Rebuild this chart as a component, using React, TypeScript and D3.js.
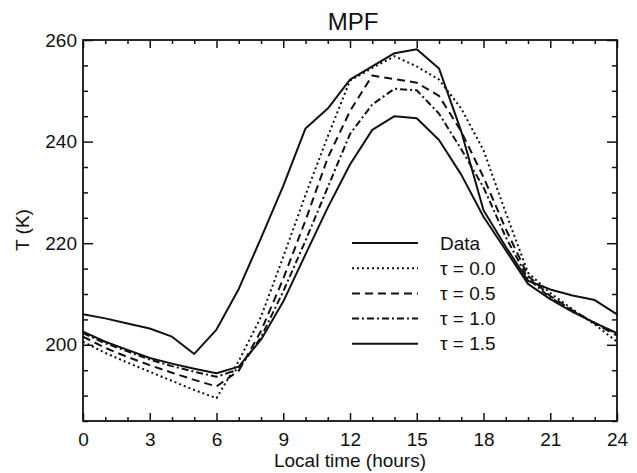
import React, { useEffect, useRef } from 'react';
import * as d3 from 'd3';

// Local time (hours) and temperature (K)
const hours = [0, 1, 2, 3, 4, 5, 6, 7, 8, 9, 10, 11, 12, 13, 14, 15, 16, 17, 18, 19, 20, 21, 22, 23, 24];

const dataT = [206.0, 205.2, 204.2, 203.2, 201.6, 198.2, 203.0, 211.0, 221.0, 231.3, 242.6, 246.5, 252.2, 254.8, 257.4, 258.2, 254.4, 242.0, 226.5, 219.3, 212.6, 210.9, 209.7, 208.8, 206.0];
const tau00 = [200.6, 198.4, 196.5, 194.7, 192.9, 191.1, 189.5, 196.8, 205.5, 217.3, 229.5, 241.0, 252.0, 254.5, 256.8, 254.8, 252.2, 246.5, 238.3, 226.0, 214.2, 210.2, 207.0, 204.0, 200.6];
const tau05 = [201.6, 199.4, 197.6, 196.0, 194.5, 193.1, 191.8, 194.9, 202.7, 213.0, 224.5, 236.8, 246.0, 253.0, 252.3, 251.6, 249.0, 242.0, 233.0, 222.8, 213.6, 209.6, 206.8, 204.2, 201.8];
const tau10 = [202.3, 200.3, 198.7, 197.1, 195.8, 194.7, 193.7, 195.2, 201.5, 210.5, 220.5, 231.0, 241.5, 247.3, 250.4, 250.1, 245.5, 238.5, 231.0, 221.2, 213.0, 209.3, 206.7, 204.3, 202.2];
const tau15 = [202.6, 200.6, 199.0, 197.4, 196.3, 195.3, 194.4, 195.7, 201.0, 208.5, 217.8, 227.0, 235.5, 242.3, 245.0, 244.6, 240.3, 233.5, 225.2, 218.6, 212.0, 209.0, 206.5, 204.3, 202.3];

const seriesNames = ['Data', 'τ = 0.0', 'τ = 0.5', 'τ = 1.0', 'τ = 1.5'];
const seriesValues = [dataT, tau00, tau05, tau10, tau15];
const seriesDash = ['none', '2,3', '8,5', '7,3,2,3', 'none'];

const xMajorTicks = [0, 3, 6, 9, 12, 15, 18, 21, 24];
const yMajorTicks = [200, 220, 240, 260];

const App: React.FC = () => {
  const svgRef = useRef<SVGSVGElement>(null);
  const width = 637;
  const height = 473;

  useEffect(() => {
    if (!svgRef.current) return;
    const svg = d3.select(svgRef.current);
    svg.selectAll('*').remove();

    const left = 83, right = 617, top = 40, bottom = 421;
    const font = '"Liberation Sans", Arial, Helvetica, sans-serif';

    const x = d3.scaleLinear().domain([0, 24]).range([left, right]);
    const y = d3.scaleLinear().domain([185, 260]).range([bottom, top]);

    svg.append('rect').attr('width', width).attr('height', height).attr('fill', '#fff');

    const xMinor = d3.range(0, 25).filter(h => h % 3 !== 0);
    const yMinor = d3.range(185, 261, 5).filter(t => t % 20 !== 0);

    const strip = (g: d3.Selection<SVGGElement, unknown, null, undefined>) => {
      g.select('.domain').remove();
      g.selectAll('line').attr('stroke', '#111').attr('stroke-width', 1.5);
      g.selectAll('text').attr('font-family', font).attr('font-size', 19).attr('fill', '#111');
    };

    // bottom axis
    svg.append('g').attr('transform', `translate(0,${bottom})`)
      .call(d3.axisBottom(x).tickValues(xMajorTicks).tickSize(-8).tickPadding(12).tickFormat(d3.format('d')))
      .call(strip);
    svg.append('g').attr('transform', `translate(0,${bottom})`)
      .call(d3.axisBottom(x).tickValues(xMinor).tickSize(-4).tickFormat(() => ''))
      .call(strip);
    // top axis
    svg.append('g').attr('transform', `translate(0,${top})`)
      .call(d3.axisTop(x).tickValues(xMajorTicks).tickSize(-8).tickFormat(() => ''))
      .call(strip);
    svg.append('g').attr('transform', `translate(0,${top})`)
      .call(d3.axisTop(x).tickValues(xMinor).tickSize(-4).tickFormat(() => ''))
      .call(strip);
    // left axis
    svg.append('g').attr('transform', `translate(${left},0)`)
      .call(d3.axisLeft(y).tickValues(yMajorTicks).tickSize(-10).tickPadding(6).tickFormat(d3.format('d')))
      .call(strip);
    svg.append('g').attr('transform', `translate(${left},0)`)
      .call(d3.axisLeft(y).tickValues(yMinor).tickSize(-5).tickFormat(() => ''))
      .call(strip);
    // right axis
    svg.append('g').attr('transform', `translate(${right},0)`)
      .call(d3.axisRight(y).tickValues(yMajorTicks).tickSize(-10).tickFormat(() => ''))
      .call(strip);
    svg.append('g').attr('transform', `translate(${right},0)`)
      .call(d3.axisRight(y).tickValues(yMinor).tickSize(-5).tickFormat(() => ''))
      .call(strip);

    // frame
    svg.append('rect')
      .attr('x', left).attr('y', top)
      .attr('width', right - left).attr('height', bottom - top)
      .attr('fill', 'none').attr('stroke', '#111').attr('stroke-width', 1.8);

    // curves
    const line = d3.line<number>()
      .x((_, i) => x(hours[i]))
      .y(d => y(d));

    seriesValues.forEach((vals, i) => {
      svg.append('path')
        .datum(vals)
        .attr('fill', 'none')
        .attr('stroke', '#111')
        .attr('stroke-width', 2)
        .attr('stroke-linejoin', 'round')
        .attr('stroke-dasharray', seriesDash[i])
        .attr('d', line);
    });

    // legend
    const legend = svg.append('g').attr('transform', 'translate(352,243)');
    seriesNames.forEach((name, i) => {
      const ly = i * 25.2;
      legend.append('line')
        .attr('x1', 0).attr('x2', 66)
        .attr('y1', ly).attr('y2', ly)
        .attr('stroke', '#111').attr('stroke-width', 2)
        .attr('stroke-dasharray', seriesDash[i]);
      legend.append('text')
        .attr('x', 88).attr('y', ly).attr('dy', '0.35em')
        .attr('font-family', font).attr('font-size', 19).attr('fill', '#111')
        .text(name);
    });

    // titles
    svg.append('text')
      .attr('x', 353).attr('y', 30)
      .attr('text-anchor', 'middle')
      .attr('font-family', font).attr('font-size', 24).attr('fill', '#111')
      .text('MPF');

    svg.append('text')
      .attr('x', (left + right) / 2).attr('y', 467)
      .attr('text-anchor', 'middle')
      .attr('font-family', font).attr('font-size', 19).attr('fill', '#111')
      .text('Local time (hours)');

    svg.append('text')
      .attr('transform', 'translate(29,230) rotate(-90)')
      .attr('text-anchor', 'middle')
      .attr('font-family', font).attr('font-size', 19).attr('fill', '#111')
      .text('T (K)');
  }, []);

  return (
    <div style={{ position: 'absolute', left: 0, top: 0 }}>
      <svg ref={svgRef} width={width} height={height} style={{ display: 'block' }} />
    </div>
  );
};

export default App;
